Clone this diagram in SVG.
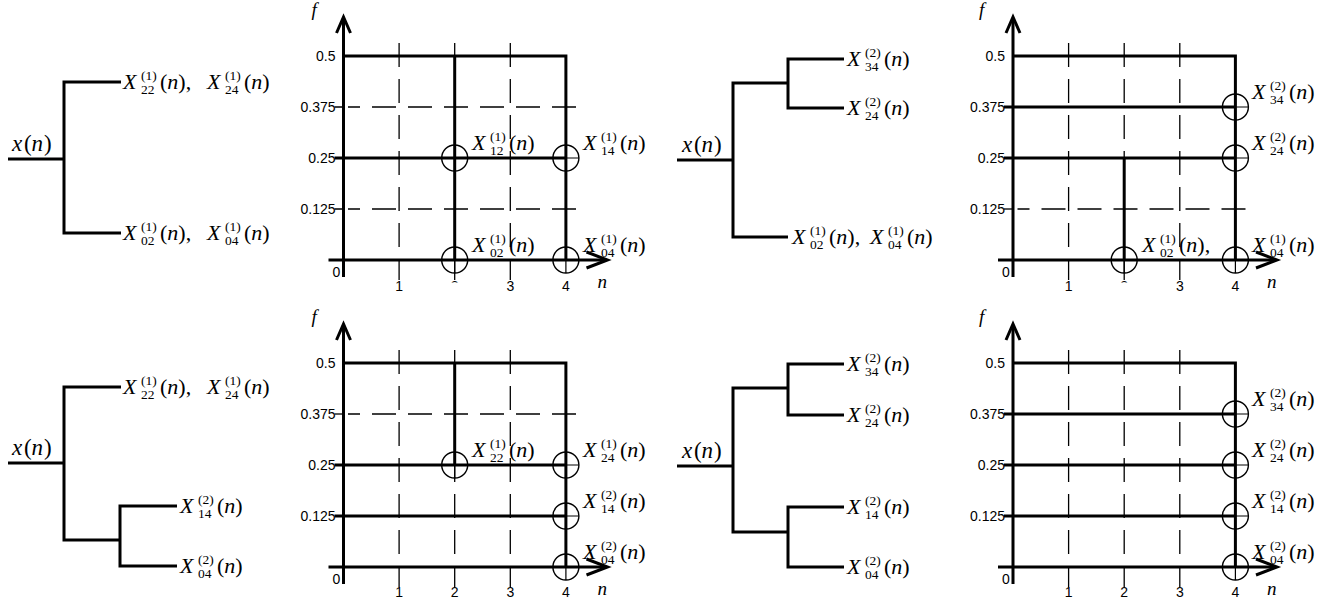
<svg xmlns="http://www.w3.org/2000/svg" width="1321" height="601" viewBox="0 0 1321 601">
<style>
.thick{fill:none;stroke:#000;stroke-width:3;stroke-linejoin:miter}
.thin{fill:none;stroke:#000;stroke-width:1.3}
.dash{fill:none;stroke:#000;stroke-width:1.3;stroke-dasharray:24 12}
.dashh{fill:none;stroke:#000;stroke-width:1.3;stroke-dasharray:24 12;stroke-dashoffset:12}
.mk circle{fill:none;stroke:#000;stroke-width:1.4}
.mk path{fill:none;stroke:#000;stroke-width:1.2}
text{fill:#000}
.mi{font-family:'Liberation Serif','Times New Roman',serif;font-style:italic;font-size:22px}
.mn{font-family:'Liberation Serif','Times New Roman',serif;font-size:22px}
.xi{font-family:'Liberation Serif','Times New Roman',serif;font-style:italic;font-size:23px}
.xn{font-family:'Liberation Serif','Times New Roman',serif;font-size:23px}
.sm{font-family:'Liberation Serif','Times New Roman',serif;font-size:13.5px}
.ax{font-family:'Liberation Sans',Arial,sans-serif;font-size:14px}
.axl{font-family:'Liberation Serif','Times New Roman',serif;font-style:italic;font-size:19px}
</style>
<defs>
<clipPath id="c2" clipPathUnits="userSpaceOnUse"><rect x="100" y="19" width="22" height="3.5"/></clipPath>
<g id="mark" class="mk"><circle r="13"/><path d="M-13 0H13M0 -13V13"/></g>
</defs>

<!-- ============ TREE 1 (top-left) ============ -->
<g id="tree1">
<g id="tree1-connectors"><path class="thick" d="M8 159H64M121 82H64V233H121"/></g>
<g id="t1-x" transform="translate(12,151)"><text class="xi">x</text><text class="xn" x="12">(</text><text class="xi" x="19.5">n</text><text class="xn" x="32">)</text></g>
<g id="t1-top" transform="translate(123,89)">
<text class="mi">X</text><text class="sm" x="18" y="-9">(1)</text><text class="sm" x="18" y="5">22</text><text class="mn" x="37">(<tspan class="mi">n</tspan>),</text>
<g transform="translate(84,0)"><text class="mi">X</text><text class="sm" x="18" y="-9">(1)</text><text class="sm" x="18" y="5">24</text><text class="mn" x="37">(<tspan class="mi">n</tspan>)</text></g>
</g>
<g id="t1-bot" transform="translate(123,240)">
<text class="mi">X</text><text class="sm" x="18" y="-9">(1)</text><text class="sm" x="18" y="5">02</text><text class="mn" x="37">(<tspan class="mi">n</tspan>),</text>
<g transform="translate(84,0)"><text class="mi">X</text><text class="sm" x="18" y="-9">(1)</text><text class="sm" x="18" y="5">04</text><text class="mn" x="37">(<tspan class="mi">n</tspan>)</text></g>
</g>
</g>

<!-- ============ CHART 1 (top-left) ============ -->
<g id="chart1" transform="translate(343.5,260)">
<path class="dash" d="M55.6 -217V20M111.2 -217V20M166.8 -217V20"/>
<path class="dashh" d="M4.5 -153H238.5M4.5 -51H238.5"/>
<path class="thin" d="M-9 -153H0M-9 -51H0"/>
<path class="thick" d="M0 -204H222.4V0M111.2 -204V0M-9 -102H222.4"/>
<path class="thick" d="M-15 0H261M0 17V-240"/>
<path class="thick" d="M243 -8L264 0L243 8M-7 -227L0 -243L7 -227"/>
<text class="ax" text-anchor="end" x="-8" y="-199">0.5</text>
<text class="ax" text-anchor="end" x="-8" y="-148">0.375</text>
<text class="ax" text-anchor="end" x="-8" y="-97">0.25</text>
<text class="ax" text-anchor="end" x="-8" y="-46">0.125</text>
<text class="ax" text-anchor="middle" x="-7" y="17">0</text>
<text class="ax" text-anchor="middle" x="55.6" y="31">1</text>
<text class="ax" text-anchor="middle" x="111.2" y="31" clip-path="url(#c2)">2</text>
<text class="ax" text-anchor="middle" x="166.8" y="31">3</text>
<text class="ax" text-anchor="middle" x="222.4" y="31">4</text>
<text class="axl" x="254" y="28">n</text>
<text class="axl" x="-32" y="-244">f</text>
<use href="#mark" x="111.2" y="-102"/><use href="#mark" x="222.4" y="-102"/>
<use href="#mark" x="111.2" y="0"/><use href="#mark" x="222.4" y="0"/>
<g id="c1-x12" transform="translate(128.5,-110)"><text class="mi">X</text><text class="sm" x="18" y="-9">(1)</text><text class="sm" x="18" y="5">12</text><text class="mn" x="37">(<tspan class="mi">n</tspan>)</text></g>
<g id="c1-x14" transform="translate(239.5,-110)"><text class="mi">X</text><text class="sm" x="18" y="-9">(1)</text><text class="sm" x="18" y="5">14</text><text class="mn" x="37">(<tspan class="mi">n</tspan>)</text></g>
<g id="c1-x02" transform="translate(128.5,-8)"><text class="mi">X</text><text class="sm" x="18" y="-9">(1)</text><text class="sm" x="18" y="5">02</text><text class="mn" x="37">(<tspan class="mi">n</tspan>)</text></g>
<g id="c1-x04" transform="translate(239.5,-8)"><text class="mi">X</text><text class="sm" x="18" y="-9">(1)</text><text class="sm" x="18" y="5">04</text><text class="mn" x="37">(<tspan class="mi">n</tspan>)</text></g>
</g>

<!-- ============ TREE 2 (top-right) ============ -->
<g id="tree2">
<g id="tree2-connectors"><path class="thick" d="M677 160H733M788 83H733V237H788M844 59H788V108H844"/></g>
<g id="t2-x" transform="translate(682,152)"><text class="xi">x</text><text class="xn" x="12">(</text><text class="xi" x="19.5">n</text><text class="xn" x="32">)</text></g>
<g id="t2-x34" transform="translate(847,66)"><text class="mi">X</text><text class="sm" x="18" y="-9">(2)</text><text class="sm" x="18" y="5">34</text><text class="mn" x="37">(<tspan class="mi">n</tspan>)</text></g>
<g id="t2-x24" transform="translate(847,115)"><text class="mi">X</text><text class="sm" x="18" y="-9">(2)</text><text class="sm" x="18" y="5">24</text><text class="mn" x="37">(<tspan class="mi">n</tspan>)</text></g>
<g id="t2-bot" transform="translate(792,244)">
<text class="mi">X</text><text class="sm" x="18" y="-9">(1)</text><text class="sm" x="18" y="5">02</text><text class="mn" x="37">(<tspan class="mi">n</tspan>),</text>
<g transform="translate(78,0)"><text class="mi">X</text><text class="sm" x="18" y="-9">(1)</text><text class="sm" x="18" y="5">04</text><text class="mn" x="37">(<tspan class="mi">n</tspan>)</text></g>
</g>
</g>

<!-- ============ CHART 2 (top-right) ============ -->
<g id="chart2" transform="translate(1013,260)">
<path class="dash" d="M55.6 -217V20M111.2 -217V20M166.8 -217V20"/>
<path class="dashh" d="M4.5 -51H237"/>
<path class="thin" d="M-9 -51H0"/>
<path class="thick" d="M0 -204H222.4V0M-9 -153H222.4M-9 -102H222.4M111.2 -102V0"/>
<path class="thick" d="M-15 0H261M0 17V-240"/>
<path class="thick" d="M243 -8L264 0L243 8M-7 -227L0 -243L7 -227"/>
<text class="ax" text-anchor="end" x="-8" y="-199">0.5</text>
<text class="ax" text-anchor="end" x="-8" y="-148">0.375</text>
<text class="ax" text-anchor="end" x="-8" y="-97">0.25</text>
<text class="ax" text-anchor="end" x="-8" y="-46">0.125</text>
<text class="ax" text-anchor="middle" x="-7" y="17">0</text>
<text class="ax" text-anchor="middle" x="55.6" y="31">1</text>
<text class="ax" text-anchor="middle" x="111.2" y="31" clip-path="url(#c2)">2</text>
<text class="ax" text-anchor="middle" x="166.8" y="31">3</text>
<text class="ax" text-anchor="middle" x="222.4" y="31">4</text>
<text class="axl" x="254" y="28">n</text>
<text class="axl" x="-34" y="-244">f</text>
<use href="#mark" x="222.4" y="-153"/><use href="#mark" x="222.4" y="-102"/>
<use href="#mark" x="111.2" y="0"/><use href="#mark" x="222.4" y="0"/>
<g id="c2-x34" transform="translate(239,-161)"><text class="mi">X</text><text class="sm" x="18" y="-9">(2)</text><text class="sm" x="18" y="5">34</text><text class="mn" x="37">(<tspan class="mi">n</tspan>)</text></g>
<g id="c2-x24" transform="translate(239,-110)"><text class="mi">X</text><text class="sm" x="18" y="-9">(2)</text><text class="sm" x="18" y="5">24</text><text class="mn" x="37">(<tspan class="mi">n</tspan>)</text></g>
<g id="c2-x02" transform="translate(129,-8)"><text class="mi">X</text><text class="sm" x="18" y="-9">(1)</text><text class="sm" x="18" y="5">02</text><text class="mn" x="37">(<tspan class="mi">n</tspan>),</text></g>
<g id="c2-x04" transform="translate(239,-8)"><text class="mi">X</text><text class="sm" x="18" y="-9">(1)</text><text class="sm" x="18" y="5">04</text><text class="mn" x="37">(<tspan class="mi">n</tspan>)</text></g>
</g>

<!-- ============ TREE 3 (bottom-left) ============ -->
<g id="tree3">
<g id="tree3-connectors"><path class="thick" d="M8 463H64M121 387H64V540H120M177 506H120V566H177"/></g>
<g id="t3-x" transform="translate(12,455)"><text class="xi">x</text><text class="xn" x="12">(</text><text class="xi" x="19.5">n</text><text class="xn" x="32">)</text></g>
<g id="t3-top" transform="translate(123,394)">
<text class="mi">X</text><text class="sm" x="18" y="-9">(1)</text><text class="sm" x="18" y="5">22</text><text class="mn" x="37">(<tspan class="mi">n</tspan>),</text>
<g transform="translate(84,0)"><text class="mi">X</text><text class="sm" x="18" y="-9">(1)</text><text class="sm" x="18" y="5">24</text><text class="mn" x="37">(<tspan class="mi">n</tspan>)</text></g>
</g>
<g id="t3-x14" transform="translate(180,513)"><text class="mi">X</text><text class="sm" x="18" y="-9">(2)</text><text class="sm" x="18" y="5">14</text><text class="mn" x="37">(<tspan class="mi">n</tspan>)</text></g>
<g id="t3-x04" transform="translate(180,573)"><text class="mi">X</text><text class="sm" x="18" y="-9">(2)</text><text class="sm" x="18" y="5">04</text><text class="mn" x="37">(<tspan class="mi">n</tspan>)</text></g>
</g>

<!-- ============ CHART 3 (bottom-left) ============ -->
<g id="chart3" transform="translate(343.5,567)">
<path class="dash" d="M55.6 -217V20M111.2 -217V20M166.8 -217V20"/>
<path class="dashh" d="M4.5 -153H238.5"/>
<path class="thin" d="M-9 -153H0"/>
<path class="thick" d="M0 -204H222.4V0M111.2 -204V-102M-9 -102H222.4M-9 -51H222.4"/>
<path class="thick" d="M-15 0H261M0 17V-240"/>
<path class="thick" d="M243 -8L264 0L243 8M-7 -227L0 -243L7 -227"/>
<text class="ax" text-anchor="end" x="-8" y="-199">0.5</text>
<text class="ax" text-anchor="end" x="-8" y="-148">0.375</text>
<text class="ax" text-anchor="end" x="-8" y="-97">0.25</text>
<text class="ax" text-anchor="end" x="-8" y="-46">0.125</text>
<text class="ax" text-anchor="middle" x="-7" y="17">0</text>
<text class="ax" text-anchor="middle" x="55.6" y="30">1</text>
<text class="ax" text-anchor="middle" x="111.2" y="30">2</text>
<text class="ax" text-anchor="middle" x="166.8" y="30">3</text>
<text class="ax" text-anchor="middle" x="222.4" y="30">4</text>
<text class="axl" x="254" y="28">n</text>
<text class="axl" x="-32" y="-244">f</text>
<use href="#mark" x="111.2" y="-102"/><use href="#mark" x="222.4" y="-102"/>
<use href="#mark" x="222.4" y="-51"/><use href="#mark" x="222.4" y="0"/>
<g id="c3-x22" transform="translate(128.5,-110)"><text class="mi">X</text><text class="sm" x="18" y="-9">(1)</text><text class="sm" x="18" y="5">22</text><text class="mn" x="37">(<tspan class="mi">n</tspan>)</text></g>
<g id="c3-x24" transform="translate(239.5,-110)"><text class="mi">X</text><text class="sm" x="18" y="-9">(1)</text><text class="sm" x="18" y="5">24</text><text class="mn" x="37">(<tspan class="mi">n</tspan>)</text></g>
<g id="c3-x14" transform="translate(239.5,-59)"><text class="mi">X</text><text class="sm" x="18" y="-9">(2)</text><text class="sm" x="18" y="5">14</text><text class="mn" x="37">(<tspan class="mi">n</tspan>)</text></g>
<g id="c3-x04" transform="translate(239.5,-8)"><text class="mi">X</text><text class="sm" x="18" y="-9">(2)</text><text class="sm" x="18" y="5">04</text><text class="mn" x="37">(<tspan class="mi">n</tspan>)</text></g>
</g>

<!-- ============ TREE 4 (bottom-right) ============ -->
<g id="tree4">
<g id="tree4-connectors"><path class="thick" d="M677 466H733M788 388H733V532H788M844 364H788V415H844M844 507H788V567H844"/></g>
<g id="t4-x" transform="translate(682,458)"><text class="xi">x</text><text class="xn" x="12">(</text><text class="xi" x="19.5">n</text><text class="xn" x="32">)</text></g>
<g id="t4-x34" transform="translate(847,371)"><text class="mi">X</text><text class="sm" x="18" y="-9">(2)</text><text class="sm" x="18" y="5">34</text><text class="mn" x="37">(<tspan class="mi">n</tspan>)</text></g>
<g id="t4-x24" transform="translate(847,422)"><text class="mi">X</text><text class="sm" x="18" y="-9">(2)</text><text class="sm" x="18" y="5">24</text><text class="mn" x="37">(<tspan class="mi">n</tspan>)</text></g>
<g id="t4-x14" transform="translate(847,514)"><text class="mi">X</text><text class="sm" x="18" y="-9">(2)</text><text class="sm" x="18" y="5">14</text><text class="mn" x="37">(<tspan class="mi">n</tspan>)</text></g>
<g id="t4-x04" transform="translate(847,574)"><text class="mi">X</text><text class="sm" x="18" y="-9">(2)</text><text class="sm" x="18" y="5">04</text><text class="mn" x="37">(<tspan class="mi">n</tspan>)</text></g>
</g>

<!-- ============ CHART 4 (bottom-right) ============ -->
<g id="chart4" transform="translate(1013,567)">
<path class="dash" d="M55.6 -217V20M111.2 -217V20M166.8 -217V20"/>
<path class="thick" d="M0 -204H222.4V0M-9 -153H222.4M-9 -102H222.4M-9 -51H222.4"/>
<path class="thick" d="M-15 0H261M0 17V-240"/>
<path class="thick" d="M243 -8L264 0L243 8M-7 -227L0 -243L7 -227"/>
<text class="ax" text-anchor="end" x="-8" y="-199">0.5</text>
<text class="ax" text-anchor="end" x="-8" y="-148">0.375</text>
<text class="ax" text-anchor="end" x="-8" y="-97">0.25</text>
<text class="ax" text-anchor="end" x="-8" y="-46">0.125</text>
<text class="ax" text-anchor="middle" x="-7" y="17">0</text>
<text class="ax" text-anchor="middle" x="55.6" y="30">1</text>
<text class="ax" text-anchor="middle" x="111.2" y="30">2</text>
<text class="ax" text-anchor="middle" x="166.8" y="30">3</text>
<text class="ax" text-anchor="middle" x="222.4" y="30">4</text>
<text class="axl" x="254" y="28">n</text>
<text class="axl" x="-34" y="-244">f</text>
<use href="#mark" x="222.4" y="-153"/><use href="#mark" x="222.4" y="-102"/>
<use href="#mark" x="222.4" y="-51"/><use href="#mark" x="222.4" y="0"/>
<g id="c4-x34" transform="translate(239,-161)"><text class="mi">X</text><text class="sm" x="18" y="-9">(2)</text><text class="sm" x="18" y="5">34</text><text class="mn" x="37">(<tspan class="mi">n</tspan>)</text></g>
<g id="c4-x24" transform="translate(239,-110)"><text class="mi">X</text><text class="sm" x="18" y="-9">(2)</text><text class="sm" x="18" y="5">24</text><text class="mn" x="37">(<tspan class="mi">n</tspan>)</text></g>
<g id="c4-x14" transform="translate(239,-59)"><text class="mi">X</text><text class="sm" x="18" y="-9">(2)</text><text class="sm" x="18" y="5">14</text><text class="mn" x="37">(<tspan class="mi">n</tspan>)</text></g>
<g id="c4-x04" transform="translate(239,-8)"><text class="mi">X</text><text class="sm" x="18" y="-9">(2)</text><text class="sm" x="18" y="5">04</text><text class="mn" x="37">(<tspan class="mi">n</tspan>)</text></g>
</g>
</svg>
